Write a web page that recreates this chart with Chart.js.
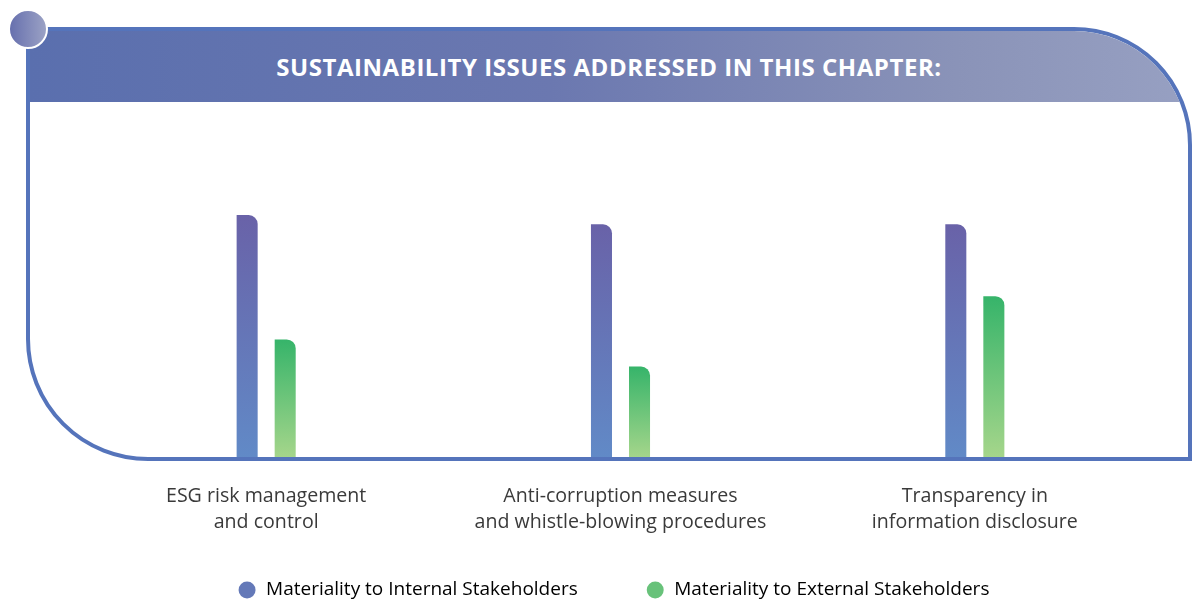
<!DOCTYPE html>
<html>
<head>
<meta charset="utf-8">
<script src="https://cdn.jsdelivr.net/npm/chart.js@4.4.1/dist/chart.umd.min.js"></script>
<style>
    html, body { margin: 0; padding: 0; background: #fff; }
    #wrap { position: relative; width: 1192px; height: 604px; overflow: hidden; }
    #chartBox { position: absolute; left: 0; top: 0; width: 1192px; height: 604px; }
    #frame {
        position: absolute; left: 26px; top: 27px; width: 1166px; height: 434px;
        box-sizing: border-box; border: 4.5px solid #5574bb;
        border-radius: 0 118px 0 122px; overflow: hidden; pointer-events: none; z-index: 2;
    }
    #head {
        height: 71px; line-height: 71px; text-align: center; color: #fff;
        font-family: "Open Sans", sans-serif; font-weight: 700; font-size: 24px; letter-spacing: 0.55px;
        background: linear-gradient(to right, #5a6fae 0%, #6b78b0 45%, #8a93b8 80%, #97a0c2 100%);
    }
    #dot {
        position: absolute; left: 8px; top: 9px; width: 36px; height: 36px; border-radius: 50%;
        border: 2px solid #fff; z-index: 3;
        background: linear-gradient(to right, #6770ae, #9ba2c5);
    }
</style>
</head>
<body>
<div id="wrap">
    <div id="chartBox"><canvas id="materialityChart"></canvas></div>
    <div id="frame"><div id="head">SUSTAINABILITY ISSUES ADDRESSED IN THIS CHAPTER:</div></div>
    <div id="dot"></div>
</div>
<script>
    // Data (materiality score, 0-5)
    const categories = [
        ['ESG risk management', 'and control'],
        ['Anti-corruption measures', 'and whistle-blowing procedures'],
        ['Transparency in', 'information disclosure']
    ];
    const seriesNames = ['Materiality to Internal Stakeholders', 'Materiality to External Stakeholders'];
    const internalScores = [4.5, 4.33, 4.33];
    const externalScores = [2.2, 1.7, 3.0];

    const legendColors = ['#6479b8', '#68c27a'];

    // vertical gradient on each bar, from its top down to the baseline
    function barFill(topColor, bottomColor) {
        return function(context) {
            const chart = context.chart;
            if (!chart.chartArea || context.type !== 'data') return bottomColor;
            const y = chart.scales.y.getPixelForValue(context.raw);
            const base = chart.scales.y.getPixelForValue(0);
            const g = chart.ctx.createLinearGradient(0, y, 0, base);
            g.addColorStop(0, topColor);
            g.addColorStop(1, bottomColor);
            return g;
        };
    }

    // legend padding is large (wide gap between items), so pull the legend up a bit
    const legendLift = {
        id: 'legendLift',
        afterLayout: function(chart) {
            chart.legend.top -= 24;
            chart.legend.bottom -= 24;
            chart.legend.left -= 7;
            chart.legend.right -= 7;
        }
    };

    const ctx = document.getElementById('materialityChart').getContext('2d');
    new Chart(ctx, {
        type: 'bar',
        data: {
            labels: categories,
            datasets: [
                {
                    label: seriesNames[0],
                    data: internalScores,
                    backgroundColor: barFill('#6962a8', '#618ac7'),
                    borderRadius: { topLeft: 0, topRight: 9, bottomLeft: 0, bottomRight: 0 },
                    borderSkipped: false
                },
                {
                    label: seriesNames[1],
                    data: externalScores,
                    backgroundColor: barFill('#36b46a', '#a6d68b'),
                    borderRadius: { topLeft: 0, topRight: 9, bottomLeft: 0, bottomRight: 0 },
                    borderSkipped: false
                }
            ]
        },
        plugins: [legendLift],
        options: {
            responsive: true,
            maintainAspectRatio: false,
            animation: false,
            categoryPercentage: 0.2147,
            barPercentage: 0.553,
            layout: {
                padding: { top: 188, left: 89, right: 40, bottom: -29.5 }
            },
            plugins: {
                tooltip: { enabled: false },
                legend: {
                    position: 'bottom',
                    labels: {
                        usePointStyle: true,
                        boxWidth: 19,
                        boxHeight: 12,
                        padding: 68,
                        color: '#555555',
                        font: { family: '"Open Sans", sans-serif', size: 19 },
                        generateLabels: function(chart) {
                            return chart.data.datasets.map(function(ds, i) {
                                return {
                                    text: ds.label,
                                    fillStyle: legendColors[i],
                                    strokeStyle: legendColors[i],
                                    lineWidth: 0,
                                    pointStyle: 'circle',
                                    hidden: false,
                                    datasetIndex: i
                                };
                            });
                        }
                    }
                }
            },
            scales: {
                x: {
                    grid: { display: false, drawTicks: false },
                    border: { display: false },
                    ticks: {
                        autoSkip: false,
                        maxRotation: 0,
                        padding: 24.5,
                        color: '#3a3a3a',
                        font: { family: '"Open Sans", sans-serif', size: 19.6, lineHeight: 1.33 }
                    },
                    afterFit: function(scale) { scale.height = 78; }
                },
                y: {
                    display: false,
                    min: 0,
                    max: 5
                }
            }
        }
    });
</script>
</body>
</html>
